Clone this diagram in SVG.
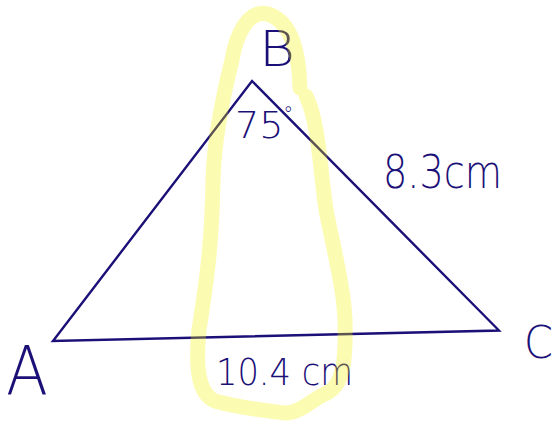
<svg xmlns="http://www.w3.org/2000/svg" width="557" height="425" viewBox="0 0 557 425">
<style>
.ink{fill:#1b1077;font-family:"DejaVu Sans","Liberation Sans",Arial,sans-serif;font-weight:200;}
.edge{fill:none;stroke:#1b1077;stroke-width:2.4;stroke-linejoin:miter;}
.hl{fill:none;stroke:#f5f100;stroke-opacity:0.3;stroke-width:15;stroke-linecap:round;stroke-linejoin:round;}
</style>
<rect width="557" height="425" fill="#ffffff"/>
<g id="triangle">
<polygon class="edge" points="53,341 252,81 499,330.5"/>
</g>
<g id="labels">
<text id="label-B" class="ink" x="259" y="66" font-size="50" textLength="36" lengthAdjust="spacingAndGlyphs">B</text>
<text id="label-A" class="ink" x="6" y="395" font-size="68" textLength="42" lengthAdjust="spacingAndGlyphs">A</text>
<text id="label-C" class="ink" x="524" y="358" font-size="44" textLength="29" lengthAdjust="spacingAndGlyphs">C</text>
<text id="angle-B" class="ink" x="235" y="138" font-size="38">75<tspan dx="0" dy="-17" font-size="20">°</tspan></text>
<text id="side-BC" class="ink" x="383" y="188" font-size="46" textLength="119" lengthAdjust="spacingAndGlyphs">8.3cm</text>
<text id="side-AC" class="ink" x="216" y="385" font-size="37" textLength="137" lengthAdjust="spacingAndGlyphs">10.4 cm</text>
</g>
<g id="highlight">
<path class="hl" d="M 300 88 C 299 55 293 22 268 14 C 248 9 236 35 232 60 C 222 100 214 140 213 180 C 212 250 205 290 199 330 C 195 370 199 394 215 401 C 240 408 268 411 285 413 C 300 413 310 401 325 394 C 344 386 346 360 345 320 C 344 290 334 250 326 210 C 320 170 319 122 306 96"/>
</g>
</svg>
